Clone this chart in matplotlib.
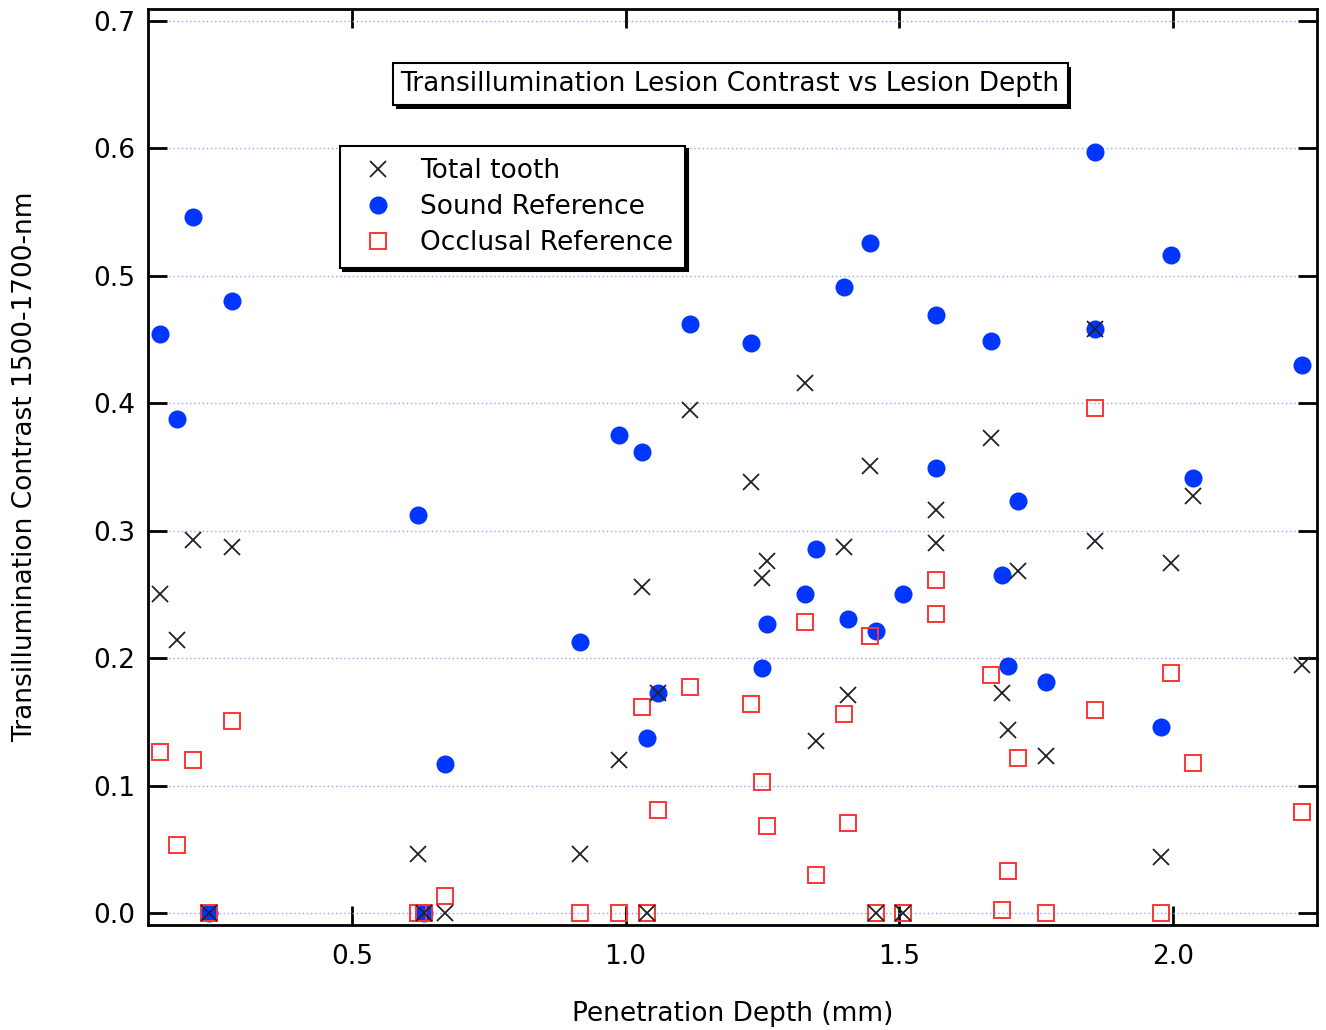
import matplotlib
matplotlib.use("Agg")
from matplotlib import pyplot as plt
from matplotlib import patheffects
import numpy as np

plt.rcParams.update({'font.size': 19, 'font.family': 'DejaVu Sans'})

# penetration depth (mm), one column per tooth
depth = [0.150, 0.181, 0.210, 0.240, 0.281, 0.620, 0.631, 0.671, 0.917, 0.988,
         1.030, 1.039, 1.059, 1.117, 1.229, 1.249, 1.258, 1.327, 1.347, 1.398,
         1.407, 1.447, 1.458, 1.507, 1.567, 1.567, 1.668, 1.688, 1.699, 1.717,
         1.768, 1.857, 1.857, 1.977, 1.997, 2.037, 2.236]

total_tooth = [0.250, 0.214, 0.293, 0.000, 0.287, 0.046, 0.000, 0.000, 0.046, 0.120,
               0.256, 0.000, 0.173, 0.395, 0.338, 0.263, 0.276, 0.416, 0.135, 0.287,
               0.171, 0.351, 0.000, 0.000, 0.316, 0.290, 0.373, 0.173, 0.144, 0.268,
               0.123, 0.458, 0.292, 0.044, 0.275, 0.327, 0.195]

sound_ref = [0.454, 0.388, 0.546, 0.000, 0.480, 0.312, 0.000, 0.117, 0.213, 0.375,
             0.362, 0.137, 0.173, 0.462, 0.447, 0.192, 0.227, 0.250, 0.286, 0.491,
             0.231, 0.526, 0.221, 0.250, 0.469, 0.349, 0.449, 0.265, 0.194, 0.323,
             0.181, 0.597, 0.458, 0.146, 0.516, 0.341, 0.430]

occlusal_ref = [0.126, 0.053, 0.120, 0.000, 0.151, 0.000, 0.000, 0.013, 0.000, 0.000,
                0.162, 0.000, 0.081, 0.177, 0.164, 0.103, 0.068, 0.228, 0.030, 0.156,
                0.071, 0.217, 0.000, 0.000, 0.261, 0.235, 0.187, 0.002, 0.033, 0.122,
                0.000, 0.396, 0.159, 0.000, 0.188, 0.118, 0.079]

fig = plt.figure(figsize=(13.26, 10.30), dpi=100)
ax = fig.add_axes([148/1326, 1 - 925/1030, (1317-148)/1326, (925-9)/1030])

s = ax.plot(depth, sound_ref, 'o', color='#0036ff', markersize=13, zorder=3,
            label='Sound Reference', markeredgewidth=0)[0]
o = ax.plot(depth, occlusal_ref, 's', markerfacecolor='none', markeredgecolor='#ff3333',
            markersize=12, markeredgewidth=1.4, zorder=4, label='Occlusal Reference')[0]
t = ax.plot(depth, total_tooth, 'x', color='#222222', markersize=12,
            markeredgewidth=1.3, zorder=5, label='Total tooth')[0]

ax.set_xlim(0.1277, 2.2628)
ax.set_ylim(-0.0094, 0.7094)
ax.set_xticks([0.5, 1.0, 1.5, 2.0])
ax.set_xticklabels(['0.5', '1.0', '1.5', '2.0'])
ax.set_yticks(np.arange(0, 0.71, 0.1))
ax.set_yticklabels([f'{v:.1f}' for v in np.arange(0, 0.71, 0.1)])
ax.tick_params(direction='in', length=14, width=2, top=True, right=True,
               labelsize=19)
ax.tick_params(axis='x', pad=14)
ax.tick_params(axis='y', pad=9)
ax.yaxis.grid(True, linestyle=(0, (1, 2)), color='#9c9cff', linewidth=1)
ax.set_axisbelow(True)
for sp in ax.spines.values():
    sp.set_linewidth(2)

ax.set_xlabel('Penetration Depth (mm)', fontsize=19, labelpad=22)
ax.set_ylabel('Transillumination Contrast 1500-1700-nm', fontsize=19, labelpad=40)

title = ax.text(0.498, 0.918, 'Transillumination Lesion Contrast vs Lesion Depth',
                transform=ax.transAxes, ha='center', va='center', fontsize=19,
                bbox=dict(boxstyle='square,pad=0.3', facecolor='white',
                          edgecolor='black', linewidth=1.5), zorder=6)
title.get_bbox_patch().set_path_effects([
    patheffects.SimplePatchShadow(offset=(2.5, -2.5), shadow_rgbFace='black', alpha=1),
    patheffects.Normal()])

leg = ax.legend(handles=[t, s, o], loc='upper left',
                bbox_to_anchor=((340-148)/1169, 1 - (146-9)/916),
                fontsize=19, frameon=True, fancybox=False, borderpad=0.45,
                handletextpad=0.6, handlelength=2.0, labelspacing=0.38,
                borderaxespad=0, shadow={'color': 'black', 'alpha': 1})
leg.get_frame().set_edgecolor('black')
leg.get_frame().set_linewidth(1.5)
leg.set_zorder(6)

plt.savefig('out.png', dpi=100)
